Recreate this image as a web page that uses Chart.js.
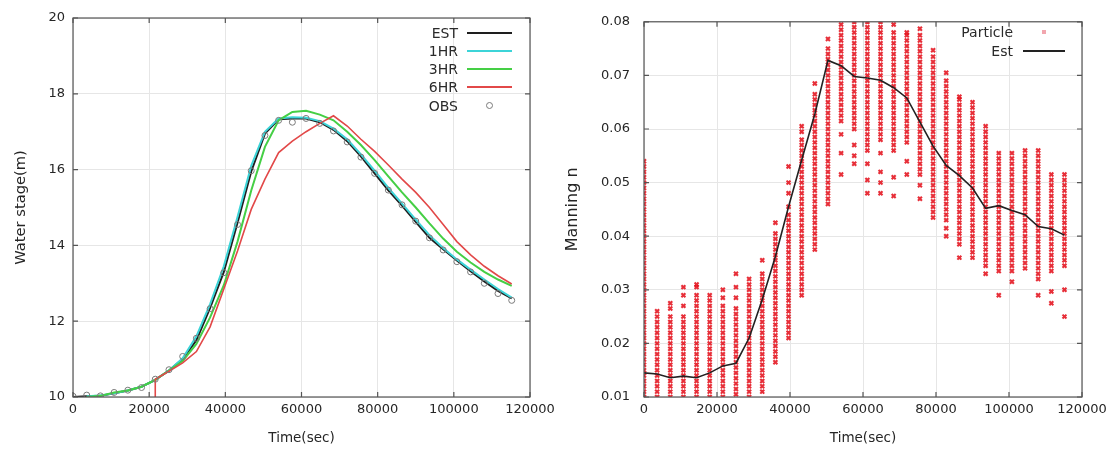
<!DOCTYPE html>
<html><head><meta charset="utf-8">
<script src="https://cdn.jsdelivr.net/npm/chart.js@4.4.1/dist/chart.umd.min.js"></script>
<style>
html,body{margin:0;padding:0;background:#fff;}
#wrap{position:relative;width:1115px;height:452px;overflow:hidden;font-family:"DejaVu Sans",sans-serif;}
canvas{position:absolute;top:0;}
#c1{left:0;} #c2{left:560px;}
.lt{position:absolute;font-size:14px;color:#2a2a2a;line-height:18px;height:18px;white-space:nowrap;text-align:right;}
.ls{position:absolute;height:0;border-top:2px solid #000;}
</style>
</head><body>
<div id="wrap">
<canvas id="c1" width="560" height="452"></canvas>
<canvas id="c2" width="555" height="452"></canvas>
<div id="leg1"></div>
<div id="leg2"></div>
</div>
<script>
// ---------- data: left chart (water stage) ----------
const hourlyTime = [0,3600,7200,10800,14400,18000,21600,25200,28800,32400,36000,39600,43200,46800,50400,54000,57600,61200,64800,68400,72000,75600,79200,82800,86400,90000,93600,97200,100800,104400,108000,111600,115200];
const obsStage = [10.02,10.05,10.03,10.12,10.18,10.25,10.47,10.72,11.07,11.55,12.33,13.28,14.55,15.97,16.90,17.30,17.25,17.35,17.22,17.02,16.73,16.33,15.90,15.46,15.07,14.64,14.20,13.88,13.57,13.30,13.00,12.73,12.55];
const estStage = [10.00,10.02,10.03,10.10,10.17,10.27,10.45,10.70,11.00,11.50,12.35,13.30,14.60,15.95,16.95,17.33,17.35,17.35,17.25,17.05,16.75,16.35,15.90,15.45,15.05,14.62,14.20,13.90,13.60,13.32,13.05,12.80,12.60];
const fcstTime = [3600,7200,10800,14400,18000,21600,25200,28800,32400,36000,39600,43200,46800,50400,54000,57600,61200,64800,68400,72000,75600,79200,82800,86400,90000,93600,97200,100800,104400,108000,111600,115200];
const hr1Stage = [10.02,10.04,10.10,10.17,10.27,10.45,10.70,11.02,11.60,12.45,13.45,14.75,16.10,17.00,17.35,17.38,17.37,17.28,17.08,16.80,16.40,15.97,15.52,15.10,14.68,14.27,13.93,13.63,13.36,13.10,12.85,12.62];
const hr3Stage = [10.00,10.03,10.12,10.17,10.27,10.45,10.70,10.95,11.40,12.10,12.95,14.10,15.45,16.60,17.30,17.52,17.55,17.45,17.30,17.00,16.65,16.25,15.82,15.40,15.00,14.58,14.18,13.83,13.55,13.30,13.10,12.93];
const hr6Time = [21600,21600,25200,28800,32400,36000,39600,43200,46800,50400,54000,57600,61200,64800,68400,72000,75600,79200,82800,86400,90000,93600,97200,100800,104400,108000,111600,115200];
const hr6Stage = [10.00,10.47,10.68,10.90,11.20,11.85,12.85,13.85,14.95,15.75,16.45,16.75,17.00,17.22,17.42,17.15,16.80,16.48,16.12,15.75,15.40,15.00,14.55,14.10,13.75,13.45,13.20,12.98];
const timeTicks = [0,20000,40000,60000,80000,100000,120000];
const stageTicks = [10,12,14,16,18,20];

// ---------- data: right chart (Manning n) ----------
const estManning = [0.0145,0.0143,0.0136,0.0139,0.0136,0.0145,0.0158,0.0163,0.0210,0.0282,0.0362,0.0455,0.0542,0.0628,0.0728,0.0718,0.0698,0.0695,0.0691,0.0677,0.0658,0.0613,0.0568,0.0532,0.0513,0.0490,0.0452,0.0457,0.0448,0.0440,0.0418,0.0414,0.0402];
const particleManning = [
 [.010,.011,.012,.013,.014,.015,.016,.017,.018,.019,.020,.021,.022,.023,.024,.025,.026,.027,.028,.029,.030,.031,.032,.033,.034,.035,.036,.037,.038,.039,.040,.041,.042,.043,.044,.045,.046,.047,.048,.049,.050,.051,.052,.053,.054],
 [.010,.011,.012,.013,.014,.015,.016,.017,.018,.019,.020,.021,.022,.023,.024,.025,.026],
 [.010,.011,.012,.013,.014,.015,.016,.017,.018,.019,.020,.021,.022,.023,.024,.025,.0265,.0275],
 [.010,.011,.012,.013,.014,.015,.016,.017,.018,.019,.020,.021,.022,.023,.024,.025,.027,.029,.0305],
 [.010,.011,.012,.013,.014,.015,.016,.017,.018,.019,.020,.021,.022,.023,.024,.025,.026,.027,.028,.029,.0305,.031],
 [.010,.011,.012,.013,.014,.015,.016,.017,.018,.019,.020,.021,.022,.023,.024,.025,.026,.027,.028,.029],
 [.010,.011,.012,.013,.014,.015,.016,.017,.018,.019,.020,.021,.022,.023,.024,.025,.026,.027,.0285,.030],
 [.0105,.0115,.0125,.0135,.0145,.0155,.0165,.0175,.0185,.0195,.0205,.0215,.0225,.0235,.0245,.0255,.0265,.0285,.0305,.033],
 [.010,.011,.012,.013,.014,.015,.016,.017,.018,.019,.020,.021,.022,.023,.024,.025,.026,.027,.028,.029,.030,.031,.032],
 [.011,.012,.013,.014,.015,.016,.017,.018,.019,.020,.021,.022,.023,.024,.025,.026,.027,.028,.029,.030,.031,.032,.033,.0355],
 [.0165,.0175,.0185,.0195,.0205,.0215,.0225,.0235,.0245,.0255,.0265,.0275,.0285,.0295,.0305,.0315,.0325,.0335,.0345,.0355,.0365,.0375,.0385,.0395,.0405,.0425],
 [.021,.022,.023,.024,.025,.026,.027,.028,.029,.030,.031,.032,.033,.034,.035,.036,.037,.038,.039,.040,.041,.042,.043,.044,.0455,.048,.050,.053],
 [.029,.030,.031,.032,.033,.034,.035,.036,.037,.038,.039,.040,.041,.042,.043,.044,.045,.046,.047,.048,.049,.050,.051,.052,.053,.054,.055,.056,.057,.058,.0595,.0605],
 [.0375,.0385,.0395,.0405,.0415,.0425,.0435,.0445,.0455,.0465,.0475,.0485,.0495,.0505,.0515,.0525,.0535,.0545,.0555,.0565,.0575,.0585,.0595,.0605,.0615,.0625,.0635,.0645,.0655,.0665,.0685],
 [.046,.047,.048,.049,.050,.051,.052,.053,.054,.055,.056,.057,.058,.059,.060,.061,.062,.063,.064,.065,.066,.067,.068,.069,.070,.071,.072,.073,.074,.075,.0768],
 [.0515,.0555,.059,.0615,.0625,.0635,.0645,.0655,.0665,.0675,.0685,.0695,.0705,.0715,.0725,.0735,.0745,.0755,.0765,.0775,.0785,.0795],
 [.0535,.055,.057,.060,.061,.062,.063,.064,.065,.066,.067,.068,.069,.070,.071,.072,.073,.074,.075,.076,.077,.078,.079,.080],
 [.048,.0505,.0535,.056,.057,.058,.059,.060,.061,.062,.063,.064,.065,.066,.067,.068,.069,.070,.071,.072,.073,.074,.075,.076,.077,.078,.079,.080],
 [.048,.050,.052,.0555,.058,.059,.060,.061,.062,.063,.064,.065,.066,.067,.068,.069,.070,.071,.072,.073,.074,.075,.076,.077,.078,.079,.080],
 [.0475,.051,.056,.057,.058,.059,.060,.061,.062,.063,.064,.065,.066,.067,.068,.069,.070,.071,.072,.073,.074,.075,.076,.077,.078,.0795],
 [.0515,.054,.0575,.0585,.0595,.0605,.0615,.0625,.0635,.0645,.0655,.0665,.0675,.0685,.0695,.0705,.0715,.0725,.0735,.0745,.0755,.0765,.0775,.078],
 [.047,.0495,.0515,.0525,.0535,.0545,.0555,.0565,.0575,.0585,.0595,.0605,.0615,.0625,.0635,.0645,.0655,.0665,.0675,.0685,.0695,.0705,.0715,.0725,.0735,.0745,.0755,.0765,.0775,.0787],
 [.0435,.0445,.0455,.0465,.0475,.0485,.0495,.0505,.0515,.0525,.0535,.0545,.0555,.0565,.0575,.0585,.0595,.0605,.0615,.0625,.0635,.0645,.0655,.0665,.0675,.0685,.0695,.0705,.0715,.0725,.0735,.0747],
 [.040,.0415,.043,.044,.045,.046,.047,.048,.049,.050,.051,.052,.053,.054,.055,.056,.057,.058,.059,.060,.061,.062,.063,.064,.065,.066,.067,.068,.069,.0705],
 [.036,.0385,.0395,.0405,.0415,.0425,.0435,.0445,.0455,.0465,.0475,.0485,.0495,.0505,.0515,.0525,.0535,.0545,.0555,.0565,.0575,.0585,.0595,.0605,.0615,.0625,.0635,.0645,.0655,.066],
 [.036,.037,.038,.039,.040,.041,.042,.043,.044,.045,.046,.047,.048,.049,.050,.051,.052,.053,.054,.055,.056,.057,.058,.059,.060,.061,.062,.063,.064,.065],
 [.033,.0345,.0355,.0365,.0375,.0385,.0395,.0405,.0415,.0425,.0435,.0445,.0455,.0465,.0475,.0485,.0495,.0505,.0515,.0525,.0535,.0545,.0555,.0565,.0575,.0585,.0595,.0605],
 [.029,.0335,.0345,.0355,.0365,.0375,.0385,.0395,.0405,.0415,.0425,.0435,.0445,.0455,.0465,.0475,.0485,.0495,.0505,.0515,.0525,.0535,.0545,.0555],
 [.0315,.0335,.0345,.0355,.0365,.0375,.0385,.0395,.0405,.0415,.0425,.0435,.0445,.0455,.0465,.0475,.0485,.0495,.0505,.0515,.0525,.0535,.0545,.0555],
 [.034,.035,.036,.037,.038,.039,.040,.041,.042,.043,.044,.045,.046,.047,.048,.049,.050,.051,.052,.053,.054,.055,.056],
 [.029,.032,.033,.034,.035,.036,.037,.038,.039,.040,.041,.042,.043,.044,.045,.046,.047,.048,.049,.050,.051,.052,.053,.054,.055,.056],
 [.0275,.0297,.0335,.0345,.0355,.0365,.0375,.0385,.0395,.0405,.0415,.0425,.0435,.0445,.0455,.0465,.0475,.0485,.0495,.0505,.0515],
 [.025,.030,.0345,.0355,.0365,.0375,.0385,.0395,.0405,.0415,.0425,.0435,.0445,.0455,.0465,.0475,.0485,.0495,.0505,.0515]
];
const manningTicks = [0.01,0.02,0.03,0.04,0.05,0.06,0.07,0.08];

// ---------- helpers ----------
const xy = (xs, ys) => xs.map((x, i) => ({x, y: ys[i]}));
const FAMILY = '"DejaVu Sans", sans-serif';
const FONT = {family: FAMILY, size: 13};
const GRID = '#e6e6e6';
const TXT = '#262626';

const framePlugin = {
  id: 'frame',
  afterDraw(chart) {
    const {ctx, chartArea: a, scales} = chart;
    ctx.save();
    ctx.strokeStyle = '#555';
    ctx.lineWidth = 1.2;
    ctx.strokeRect(a.left, a.top, a.right - a.left, a.bottom - a.top);
    ctx.beginPath();
    scales.x.ticks.forEach(t => {
      const p = scales.x.getPixelForValue(t.value);
      ctx.moveTo(p, a.bottom); ctx.lineTo(p, a.bottom - 5);
      ctx.moveTo(p, a.top); ctx.lineTo(p, a.top + 5);
    });
    scales.y.ticks.forEach(t => {
      const p = scales.y.getPixelForValue(t.value);
      ctx.moveTo(a.left, p); ctx.lineTo(a.left + 5, p);
      ctx.moveTo(a.right, p); ctx.lineTo(a.right - 5, p);
    });
    ctx.stroke();
    ctx.restore();
  }
};

function axes(o) {
  return {
    x: {
      type: 'linear', min: 0, max: 120000,
      afterBuildTicks: s => { s.ticks = o.xTicks.map(v => ({value: v})); },
      afterFit: s => { s.height = 55; },
      ticks: {font: FONT, color: TXT, padding: 5, maxRotation: 0, autoSkip: false, callback: v => String(v)},
      grid: {color: GRID, drawTicks: false},
      border: {display: false},
      title: {display: true, text: 'Time(sec)', font: {family: FAMILY, size: 13.5}, color: TXT, padding: {top: 0, bottom: 5}}
    },
    y: {
      type: 'linear', min: o.yMin, max: o.yMax,
      afterBuildTicks: s => { s.ticks = o.yTicks.map(v => ({value: v})); },
      afterFit: s => { s.width = o.yWidth; },
      ticks: {font: FONT, color: TXT, padding: o.yPad, autoSkip: false, callback: o.yFmt},
      grid: {color: GRID, drawTicks: false},
      border: {display: false},
      title: {display: true, text: o.yTitle, font: {family: FAMILY, size: o.yTitleSize}, color: TXT, padding: {top: o.yTitlePad, bottom: 0}}
    }
  };
}

const common = {
  responsive: false, animation: false, devicePixelRatio: 1,
  plugins: {legend: {display: false}, tooltip: {enabled: false}}
};

new Chart(document.getElementById('c1'), {
  type: 'line',
  data: {datasets: [
    {label: 'EST', data: xy(hourlyTime, estStage), borderColor: '#1e1e1e', borderWidth: 2, pointRadius: 0, tension: 0, order: 4},
    {label: '1HR', data: xy(fcstTime, hr1Stage), borderColor: '#3cd4d8', borderWidth: 2, pointRadius: 0, tension: 0, order: 3},
    {label: '3HR', data: xy(fcstTime, hr3Stage), borderColor: '#45cf45', borderWidth: 2, pointRadius: 0, tension: 0, order: 2},
    {label: '6HR', data: xy(hr6Time, hr6Stage), borderColor: '#e24848', borderWidth: 1.6, pointRadius: 0, tension: 0, order: 1},
    {label: 'OBS', data: xy(hourlyTime, obsStage), showLine: false, pointStyle: 'circle', pointRadius: 3, borderColor: '#7a7a7a', backgroundColor: 'rgba(0,0,0,0)', pointBorderWidth: 1, order: 0}
  ]},
  options: Object.assign({}, common, {
    layout: {padding: {top: 18, right: 30, bottom: 0, left: 0}},
    scales: axes({xTicks: timeTicks, yMin: 10, yMax: 20, yTicks: stageTicks, yWidth: 73, yPad: 8, yTitle: 'Water stage(m)', yTitleSize: 14.7, yTitlePad: 12, yFmt: v => String(v)})
  }),
  plugins: [framePlugin]
});

const particlePoints = [];
particleManning.forEach((col, i) => col.forEach(v => particlePoints.push({x: hourlyTime[i], y: v})));

new Chart(document.getElementById('c2'), {
  type: 'line',
  data: {datasets: [
    {label: 'Est', data: xy(hourlyTime, estManning), borderColor: '#222', borderWidth: 1.6, pointRadius: 0, tension: 0, order: 0},
    {label: 'Particle', data: particlePoints, showLine: false, pointStyle: 'crossRot', pointRadius: 2.8, borderColor: 'rgba(228,18,30,0.88)', pointBorderWidth: 2.1, order: 1}
  ]},
  options: Object.assign({}, common, {
    layout: {padding: {top: 18, right: 33, bottom: 0, left: 0}},
    scales: axes({xTicks: timeTicks, yMin: 0.01, yMax: 0.08, yTicks: manningTicks, yWidth: 84, yPad: 14, yTitle: 'Manning n', yTitleSize: 16, yTitlePad: 3, yFmt: v => Number(v).toFixed(2)})
  }),
  plugins: [framePlugin]
});

// ---------- legends (HTML text) ----------
function legend(el, rows, textRight, sampleLeft, sampleWidth, top0, step) {
  rows.forEach((r, i) => {
    const cy = top0 + i * step;
    const t = document.createElement('div');
    t.className = 'lt';
    t.textContent = r.label;
    t.style.right = (1115 - textRight) + 'px';
    t.style.top = (cy - 9) + 'px';
    el.appendChild(t);
    const s = document.createElement('div');
    s.style.position = 'absolute';
    if (r.kind === 'line') {
      s.className = 'ls';
      s.style.left = sampleLeft + 'px';
      s.style.width = sampleWidth + 'px';
      s.style.top = (cy - 1) + 'px';
      s.style.borderTopColor = r.color;
    } else if (r.kind === 'circle') {
      s.style.left = (sampleLeft + sampleWidth / 2 - 3.5) + 'px';
      s.style.top = (cy - 3.5) + 'px';
      s.style.width = '5px'; s.style.height = '5px';
      s.style.border = '1px solid #7a7a7a'; s.style.borderRadius = '50%';
    } else {
      s.style.left = (sampleLeft + sampleWidth / 2 - 2) + 'px';
      s.style.top = (cy - 2) + 'px';
      s.style.width = '4px'; s.style.height = '4px';
      s.style.background = '#f2a6ae';
    }
    el.appendChild(s);
  });
}
legend(document.getElementById('leg1'), [
  {label: 'EST', kind: 'line', color: '#1e1e1e'},
  {label: '1HR', kind: 'line', color: '#3cd4d8'},
  {label: '3HR', kind: 'line', color: '#45cf45'},
  {label: '6HR', kind: 'line', color: '#e24848'},
  {label: 'OBS', kind: 'circle'}
], 458, 467, 45, 32.7, 18.2);
legend(document.getElementById('leg2'), [
  {label: 'Particle', kind: 'mark'},
  {label: 'Est', kind: 'line', color: '#222'}
], 1013, 1023, 42, 32.3, 18.4);
</script>
</body></html>
